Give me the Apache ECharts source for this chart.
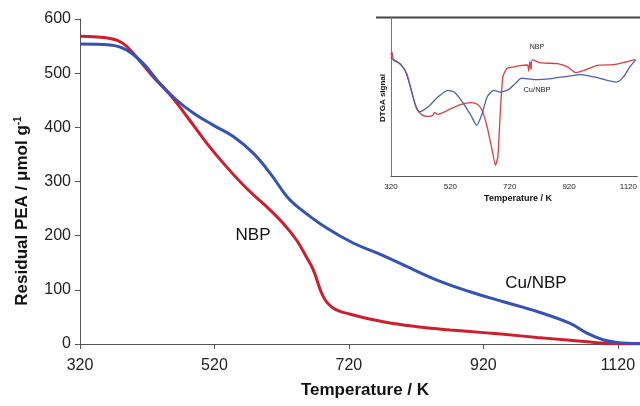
<!DOCTYPE html>
<html><head><meta charset="utf-8">
<script src="https://cdn.jsdelivr.net/npm/echarts@6/dist/echarts.min.js"></script>
<style>html,body{margin:0;padding:0;background:#fff}#c{width:640px;height:406px}</style>
</head><body><div id="c"></div>
<script>
// Main chart: residual PEA (µmol/g) vs temperature (K)
var xTicks = [320, 520, 720, 920, 1120];
var yTicks = [0, 100, 200, 300, 400, 500, 600];
var nbpT = [321, 365, 384, 404, 429, 454, 479, 509, 538, 568, 598, 622, 642, 657, 667, 682, 697, 722, 771, 821, 871, 920, 950, 1000, 1049, 1089, 1120, 1153];
var nbpV = [568, 564, 555, 530, 493, 460, 420, 370, 327, 287, 253, 223, 192, 160, 137, 87, 66, 55, 41, 32, 26, 21, 18, 12, 7, 2.5, 0.5, 0];
var cuT = [321, 365, 389, 414, 439, 464, 489, 518, 548, 578, 603, 628, 647, 687, 727, 766, 801, 851, 900, 950, 1000, 1049, 1074, 1099, 1119, 1153];
var cuV = [554, 552, 543, 518, 481, 450, 426, 404, 383, 352, 315, 272, 250, 214, 186, 166, 146, 118, 96.5, 78, 60, 38, 20, 7.4, 3, 1];
// Inset: DTGA signal (arbitrary units) vs temperature (K)
var dNbpT = [320, 323, 329, 351, 373, 390, 406, 423, 445, 462, 466, 478, 500, 522, 556, 589, 611, 627, 644, 661, 672, 680, 688, 697, 710, 733, 760, 780, 784, 788, 792, 796, 827, 882, 915, 943, 971, 1015, 1070, 1103, 1142];
var dNbpV = [76, 78, 72.8, 70.7, 64.4, 52.8, 42.4, 38.6, 37.5, 38.3, 40, 38.8, 40.3, 42.4, 45.1, 46.2, 45.1, 41.3, 30.8, 16.2, 6.7, 12, 39.2, 62.3, 67.5, 68.6, 69.6, 69.8, 66, 72, 67, 73, 71.1, 70.7, 68.6, 65, 66.5, 69.6, 70, 71.3, 73.2];
var dCuT = [320, 323, 345, 367, 384, 401, 417, 445, 478, 511, 533, 561, 589, 609, 627, 644, 666, 688, 716, 738, 760, 805, 860, 915, 959, 1004, 1048, 1081, 1103, 1125, 1145];
var dCuV = [75, 73.8, 71.3, 66.5, 57, 45.5, 40.3, 43.4, 49.7, 53.9, 52.8, 46.5, 38.2, 31.9, 39.2, 49.7, 53.9, 52.8, 54.3, 58.1, 61.6, 60.6, 61.3, 62.7, 63.8, 62.3, 60.2, 59.1, 62.3, 68.6, 73.2];

function zip(a, b) { return a.map(function (v, i) { return [v, b[i]]; }); }
var F = 'Liberation Sans, Arial, sans-serif';
var RED = '#cc1f2e', BLUE = '#3553b3', IRED = '#d9413f', IBLUE = '#4a5ec0';

var chart = echarts.init(document.getElementById('c'), null, {renderer: 'canvas'});
chart.setOption({
  animation: false,
  backgroundColor: '#fff',
  grid: [
    {left: 80, top: 19, width: 558, height: 325},
    {left: 391, top: 17, width: 250, height: 159}
  ],
  xAxis: [
    {gridIndex: 0, type: 'value', min: 320, max: 1150, interval: 200,
     axisLine: {lineStyle: {color: '#555', width: 1}},
     axisTick: {show: true, length: 5, lineStyle: {color: '#555'}},
     splitLine: {show: false},
     axisLabel: {color: '#222', fontSize: 16, fontFamily: F, margin: 14, showMaxLabel: false,
       formatter: function (v) { return xTicks.indexOf(v) >= 0 ? String(v) : ''; }}},
    {gridIndex: 1, type: 'value', min: 320, max: 1150, interval: 200,
     axisLine: {lineStyle: {color: '#555', width: 1}},
     axisTick: {show: false},
     splitLine: {show: false},
     axisLabel: {color: '#222', fontSize: 8, fontFamily: F, margin: 7, showMaxLabel: false,
       formatter: function (v) { return xTicks.indexOf(v) >= 0 ? String(v) : ''; }}}
  ],
  yAxis: [
    {gridIndex: 0, type: 'value', min: 0, max: 600, interval: 100,
     axisLine: {show: true, lineStyle: {color: '#555', width: 1}},
     axisTick: {show: true, length: 5, lineStyle: {color: '#555'}},
     splitLine: {show: false},
     axisLabel: {color: '#222', fontSize: 16, fontFamily: F, margin: 9,
       formatter: function (v) { return yTicks.indexOf(v) >= 0 ? String(v) : ''; }}},
    {gridIndex: 1, type: 'value', min: 0, max: 100,
     axisLine: {show: true, lineStyle: {color: '#777', width: 1}},
     axisTick: {show: false}, axisLabel: {show: false}, splitLine: {show: false}}
  ],
  series: [
    {type: 'line', xAxisIndex: 0, yAxisIndex: 0, data: zip(nbpT, nbpV), smooth: 0.4, showSymbol: false,
     lineStyle: {color: RED, width: 3}},
    {type: 'line', xAxisIndex: 0, yAxisIndex: 0, data: zip(cuT, cuV), smooth: 0.4, showSymbol: false,
     lineStyle: {color: BLUE, width: 3}},
    {type: 'line', xAxisIndex: 1, yAxisIndex: 1, data: zip(dNbpT, dNbpV), smooth: 0.2, showSymbol: false,
     lineStyle: {color: IRED, width: 1.3}},
    {type: 'line', xAxisIndex: 1, yAxisIndex: 1, data: zip(dCuT, dCuV), smooth: 0.2, showSymbol: false,
     lineStyle: {color: IBLUE, width: 1.3}}
  ],
  graphic: [
    {type: 'line', shape: {x1: 376, y1: 17.5, x2: 640, y2: 17.5}, style: {stroke: '#444', lineWidth: 2}},
    {type: 'text', x: 365, y: 390, style: {text: 'Temperature / K', font: 'bold 17px ' + F, fill: '#111', textAlign: 'center', textVerticalAlign: 'middle'}},
    {type: 'text', x: 22, y: 211, rotation: Math.PI / 2,
     style: {text: 'Residual PEA / \u03bcmol g{sup|-1}', rich: {sup: {font: 'bold 10px ' + F, fill: '#111', verticalAlign: 'top', padding: [0, 0, 8, 0]}},
       font: 'bold 17px ' + F, fill: '#111', textAlign: 'center', textVerticalAlign: 'middle'}},
    {type: 'text', x: 253, y: 235, style: {text: 'NBP', font: '17px ' + F, fill: '#111', textAlign: 'center', textVerticalAlign: 'middle'}},
    {type: 'text', x: 536, y: 283, style: {text: 'Cu/NBP', font: '17px ' + F, fill: '#111', textAlign: 'center', textVerticalAlign: 'middle'}},
    {type: 'text', x: 518, y: 199, style: {text: 'Temperature / K', font: 'bold 9px ' + F, fill: '#111', textAlign: 'center', textVerticalAlign: 'middle'}},
    {type: 'text', x: 383, y: 98, rotation: Math.PI / 2, style: {text: 'DTGA signal', font: 'bold 8px ' + F, fill: '#111', textAlign: 'center', textVerticalAlign: 'middle'}},
    {type: 'text', x: 537, y: 47, style: {text: 'NBP', font: '7px ' + F, fill: '#222', textAlign: 'center', textVerticalAlign: 'middle'}},
    {type: 'text', x: 537, y: 90, style: {text: 'Cu/NBP', font: '7.5px ' + F, fill: '#222', textAlign: 'center', textVerticalAlign: 'middle'}}
  ]
});
</script></body></html>
